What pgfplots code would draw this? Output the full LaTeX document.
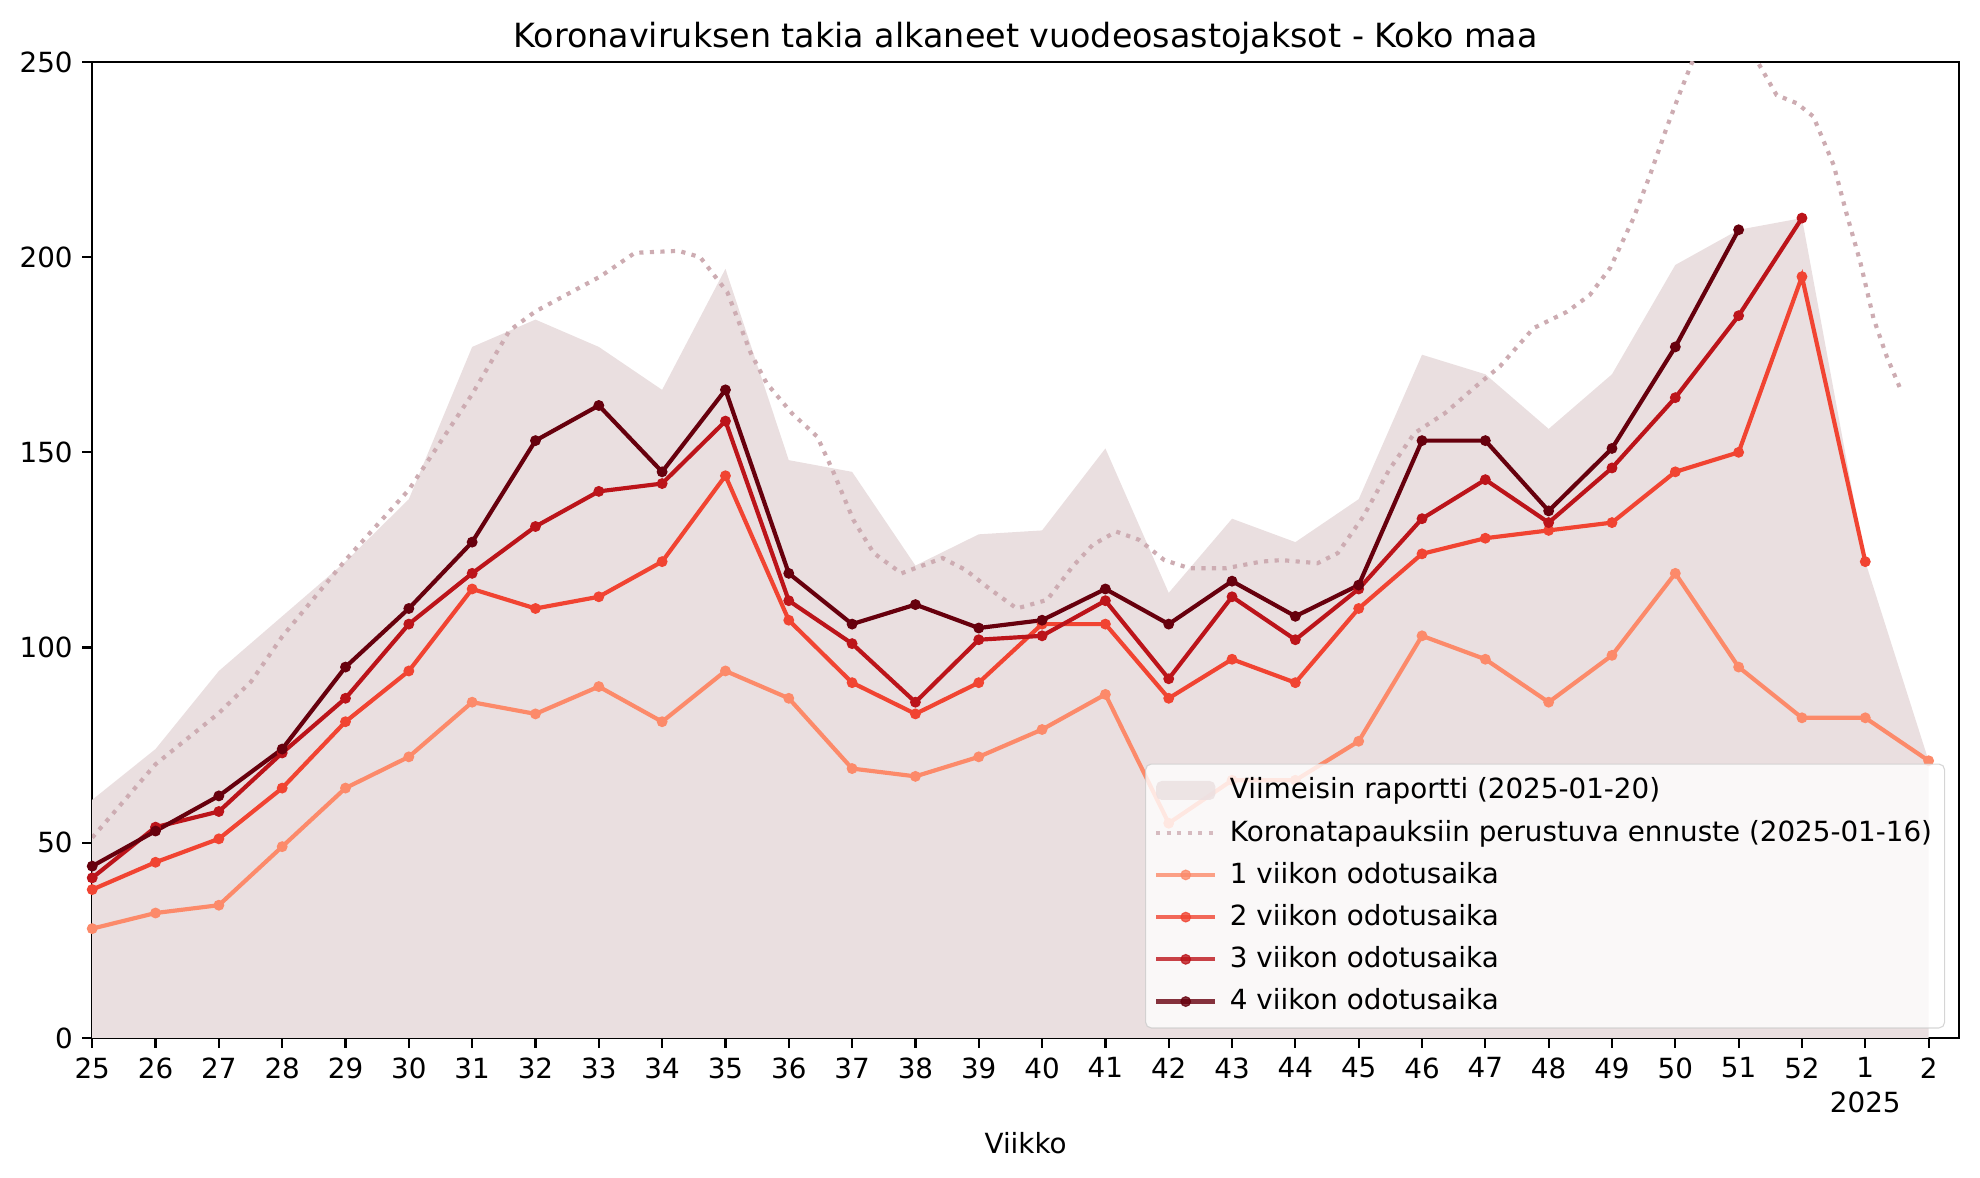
\documentclass[border=0pt]{standalone}
\usepackage{pgfplots}
\pgfplotsset{compat=1.18}
\usepackage{fontspec}
\setmainfont{DejaVu Sans}
\definecolor{c1}{HTML}{FC8A6A}
\definecolor{c2}{HTML}{F14432}
\definecolor{c3}{HTML}{BC141A}
\definecolor{c4}{HTML}{67000D}
\definecolor{areac}{HTML}{EADFE0}
\definecolor{fcst}{HTML}{CDACB2}
\pgfplotsset{
  legend image code/.code={\draw[mark repeat=2,mark phase=2,#1] plot coordinates {(0cm,0cm) (0.375cm,0cm) (0.75cm,0cm)};},
  myarealegend/.style={legend image code/.code={\fill[##1] (0cm,-0.12cm) rectangle (0.75cm,0.12cm);}},
  ser/.style={color=#1, line width=1.5pt, mark=*, mark size=1.75pt, mark options={solid, fill=#1, draw=#1, line width=0.4pt}},
}
\begin{document}
\begin{tikzpicture}
\begin{axis}[
  name=ax, at={(0,0)}, anchor=south west,
  scale only axis, width=672.1pt, height=351.4pt,
  xmin=0, xmax=29.48, ymin=0, ymax=250,
  xtick={0,...,29},
  xticklabels={25,26,27,28,29,30,31,32,33,34,35,36,37,38,39,40,41,42,43,44,45,46,47,48,49,50,51,52,{1\\2025},2},
  xticklabel style={align=center, anchor=north, font=\fontsize{10}{12.5}\selectfont},
  ytick={0,50,100,150,200,250},
  yticklabel style={font=\fontsize{10}{12}\selectfont},
  /pgf/number format/assume math mode=true,
  tick align=outside, major tick length=3.5pt,
  tick style={black, line width=0.8pt},
  axis line style={line width=0.8pt},
  xtick pos=bottom, ytick pos=left,
  title={Koronaviruksen takia alkaneet vuodeosastojaksot - Koko maa},
  title style={font=\fontsize{12}{14}\selectfont, yshift=-7pt},
  xlabel={Viikko},
  xlabel style={font=\fontsize{10}{12}\selectfont},
  legend cell align=left,
  legend style={at={(1,0)}, anchor=south east, xshift=-5pt, yshift=3.4pt,
    draw={rgb,255:red,204;green,204;blue,204}, fill=white, fill opacity=0.8, draw opacity=0.8, text opacity=1,
    rounded corners=2pt, inner xsep=3pt, inner ysep=3pt,
    font=\fontsize{10}{12}\selectfont,
    nodes={inner sep=1.5pt, text height=8pt, text depth=2pt},
    /tikz/every odd column/.append style={column sep=3pt},
    row sep=2.2pt},
]
\addplot[fill=areac, draw=none, myarealegend] coordinates {
(0,61)(1,74)(2,94)(3,108)(4,122)(5,138)(6,177)(7,184)(8,177)(9,166)(10,197)(11,148)(12,145)(13,121)(14,129)(15,130)(16,151)(17,114)(18,133)(19,127)(20,138)(21,175)(22,170)(23,156)(24,170)(25,198)(26,207)(27,210)(28,122)(29,71)
} \closedcycle;
\addlegendentry{Viimeisin raportti (2025-01-20)}
\addplot[color=fcst, line width=1.5pt, dash pattern=on 1.5pt off 2.3pt] coordinates {
(0,51.3)(1,70.1)(2,83.2)(2.51,91.3)(3,102.8)(4,122.4)(5,140.4)(6,164.9)(6.59,181.2)(7,186.1)(8.03,195.1)(8.57,201.1)(9.26,201.6)(9.6,200)(10.03,191)(10.4,175.4)(10.65,167.7)(11.05,160)(11.45,154)(11.69,145.5)(12.02,132.7)(12.34,124.2)(12.78,119)(13.06,120.7)(13.43,122.9)(13.79,119.9)(14.19,114.8)(14.6,110)(15.08,112.2)(15.48,120.7)(15.8,126.3)(16.17,129.7)(16.53,127.6)(16.93,122.4)(17.33,120.3)(17.9,120.3)(18.46,122)(18.78,122.4)(19.35,121.6)(19.67,124.2)(20.07,133.5)(20.48,145.5)(20.88,154.9)(21.36,160)(21.85,166.9)(22.23,172)(22.76,181.8)(23.29,186)(23.65,190.3)(23.97,197.2)(24.34,210)(24.6,221)(24.86,233)(25.08,242.4)(25.26,249.7)(25.5,257)(25.8,261)(26.1,257)(26.31,249.7)(26.6,241.5)(26.92,239.4)(27.18,236)(27.5,223.6)(27.71,210.8)(27.92,198.8)(28.13,184.3)(28.34,174.5)(28.55,166.4)
};
\addlegendentry{Koronatapauksiin perustuva ennuste (2025-01-16)}
\addplot[ser=c1] coordinates {
(0,28)(1,32)(2,34)(3,49)(4,64)(5,72)(6,86)(7,83)(8,90)(9,81)(10,94)(11,87)(12,69)(13,67)(14,72)(15,79)(16,88)(17,55)(18,66)(19,66)(20,76)(21,103)(22,97)(23,86)(24,98)(25,119)(26,95)(27,82)(28,82)(29,71)
};
\addlegendentry{1 viikon odotusaika}
\addplot[ser=c2] coordinates {
(0,38)(1,45)(2,51)(3,64)(4,81)(5,94)(6,115)(7,110)(8,113)(9,122)(10,144)(11,107)(12,91)(13,83)(14,91)(15,106)(16,106)(17,87)(18,97)(19,91)(20,110)(21,124)(22,128)(23,130)(24,132)(25,145)(26,150)(27,195)(28,122)
};
\addlegendentry{2 viikon odotusaika}
\addplot[ser=c3] coordinates {
(0,41)(1,54)(2,58)(3,73)(4,87)(5,106)(6,119)(7,131)(8,140)(9,142)(10,158)(11,112)(12,101)(13,86)(14,102)(15,103)(16,112)(17,92)(18,113)(19,102)(20,115)(21,133)(22,143)(23,132)(24,146)(25,164)(26,185)(27,210)
};
\addlegendentry{3 viikon odotusaika}
\addplot[ser=c4] coordinates {
(0,44)(1,53)(2,62)(3,74)(4,95)(5,110)(6,127)(7,153)(8,162)(9,145)(10,166)(11,119)(12,106)(13,111)(14,105)(15,107)(16,115)(17,106)(18,117)(19,108)(20,116)(21,153)(22,153)(23,135)(24,151)(25,177)(26,207)
};
\addlegendentry{4 viikon odotusaika}
\end{axis}
\path ([xshift=-33.2pt,yshift=-50.4pt]ax.south west) rectangle ([xshift=7.56pt,yshift=22.3pt]ax.north east);
\end{tikzpicture}
\end{document}
